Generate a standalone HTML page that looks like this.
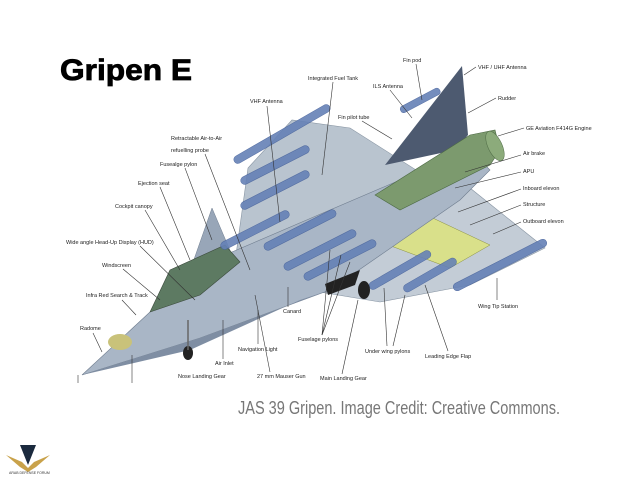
<!DOCTYPE html>
<html><head><meta charset="utf-8"><style>
html,body{margin:0;padding:0;background:#fff;}
svg{display:block;}
.l{font-family:"Liberation Sans",sans-serif;font-size:5.5px;fill:#222;}
.ln{stroke:#333;stroke-width:0.6;fill:none;}
.ms{fill:#6581b6;stroke:#46619a;stroke-width:0.5;opacity:0.9;}
</style></head><body>
<svg width="640" height="480" viewBox="0 0 640 480" xmlns="http://www.w3.org/2000/svg">
<rect width="640" height="480" fill="#fff"/>
<text x="60" y="80" font-family="Liberation Sans,sans-serif" font-weight="bold" font-size="30" fill="#000" textLength="132" lengthAdjust="spacingAndGlyphs" stroke="#000" stroke-width="0.8">Gripen E</text>

<polygon points="235,262 248,168 292,120 350,128 435,182 330,262" fill="#b9c4cf" stroke="#8895a3" stroke-width="0.6"/>
<polygon points="320,292 400,205 470,188 545,248 470,285 380,302" fill="#c3ccd6" stroke="#8895a3" stroke-width="0.6"/>
<polygon points="375,240 420,212 490,245 450,268" fill="#d9e08a" stroke="#8a9040" stroke-width="0.5"/>
<polygon points="385,165 462,66 468,135 455,150" fill="#4d5a70"/>
<polygon points="82,375 150,312 232,252 470,150 490,170 460,200 330,290 200,338" fill="#a9b6c6" stroke="#6f7d8f" stroke-width="0.6"/>
<polygon points="82,375 200,338 330,290 300,300 190,350" fill="#7f8ea3"/>
<polygon points="375,195 470,135 495,130 500,150 490,165 400,210" fill="#7c9a6e" stroke="#4d6a44" stroke-width="0.6"/>
<ellipse cx="495" cy="146" rx="7" ry="16" fill="#8cab7b" stroke="#4d6a44" stroke-width="0.5" transform="rotate(-25 495 146)"/>
<polygon points="185,285 212,208 232,255 215,270" fill="#98a6b8" stroke="#6f7d8f" stroke-width="0.5"/>
<polygon points="150,312 170,270 225,245 240,262 200,295" fill="#5d7a62" stroke="#3b4a3c" stroke-width="0.6"/>
<ellipse cx="120" cy="342" rx="12" ry="8" fill="#c9c27a"/>
<g class="ms">
<rect x="-55" y="-4" width="110" height="8" rx="4" transform="translate(282,134) rotate(-30)"/>
<rect x="-38" y="-4" width="76" height="8" rx="4" transform="translate(275,165) rotate(-27)"/>
<rect x="-38" y="-4" width="76" height="8" rx="4" transform="translate(275,190) rotate(-27)"/>
<rect x="-38" y="-4" width="76" height="8" rx="4" transform="translate(255,230) rotate(-27)"/>
<rect x="-40" y="-4" width="80" height="8" rx="4" transform="translate(300,230) rotate(-27)"/>
<rect x="-40" y="-4" width="80" height="8" rx="4" transform="translate(320,250) rotate(-27)"/>
<rect x="-40" y="-4" width="80" height="8" rx="4" transform="translate(340,260) rotate(-27)"/>
<rect x="-35" y="-4" width="70" height="8" rx="4" transform="translate(400,270) rotate(-30)"/>
<rect x="-30" y="-4" width="60" height="8" rx="4" transform="translate(430,275) rotate(-30)"/>
<rect x="-52" y="-4" width="104" height="8" rx="4" transform="translate(500,265) rotate(-27)"/>
<rect x="-22" y="-3" width="44" height="7" rx="3" transform="translate(420,100) rotate(-28)"/>
</g>
<ellipse cx="364" cy="290" rx="6" ry="9" fill="#222"/>
<ellipse cx="188" cy="353" rx="5" ry="7" fill="#222"/>
<line x1="188" y1="320" x2="188" y2="350" stroke="#666" stroke-width="1.5"/>
<polygon points="325,284 360,270 355,285 328,295" fill="#222"/>

<g class="l">
<text x="308" y="80">Integrated Fuel Tank</text>
<text x="250" y="103">VHF Antenna</text>
<text x="171" y="140">Retractable Air-to-Air</text>
<text x="171" y="152">refuelling probe</text>
<text x="160" y="166">Fusealge pylon</text>
<text x="138" y="185">Ejection seat</text>
<text x="115" y="208">Cockpit canopy</text>
<text x="66" y="244">Wide angle Head-Up Display (HUD)</text>
<text x="102" y="267">Windscreen</text>
<text x="86" y="297">Infra Red Search &amp; Track</text>
<text x="80" y="330">Radome</text>
<text x="178" y="378">Nose Landing Gear</text>
<text x="215" y="365">Air Inlet</text>
<text x="238" y="351">Navigation Light</text>
<text x="257" y="378">27 mm Mauser Gun</text>
<text x="283" y="313">Canard</text>
<text x="298" y="341">Fuselage pylons</text>
<text x="320" y="380">Main Landing Gear</text>
<text x="365" y="353">Under wing pylons</text>
<text x="425" y="358">Leading Edge Flap</text>
<text x="478" y="308">Wing Tip Station</text>
<text x="523" y="223">Outboard elevon</text>
<text x="523" y="206">Structure</text>
<text x="523" y="190">Inboard elevon</text>
<text x="523" y="173">APU</text>
<text x="523" y="155">Air brake</text>
<text x="526" y="130">GE Aviation F414G Engine</text>
<text x="498" y="100">Rudder</text>
<text x="478" y="69">VHF / UHF Antenna</text>
<text x="403" y="62">Fin pod</text>
<text x="373" y="88">ILS Antenna</text>
<text x="338" y="119">Fin pilot tube</text>
</g>
<g class="ln">
<line x1="333" y1="82" x2="322" y2="175"/>
<line x1="267" y1="106" x2="280" y2="222"/>
<line x1="205" y1="154" x2="250" y2="270"/>
<line x1="185" y1="168" x2="212" y2="240"/>
<line x1="160" y1="187" x2="190" y2="260"/>
<line x1="145" y1="210" x2="180" y2="270"/>
<line x1="140" y1="246" x2="195" y2="300"/>
<line x1="123" y1="269" x2="160" y2="300"/>
<line x1="122" y1="300" x2="136" y2="315"/>
<line x1="93" y1="333" x2="102" y2="352"/>
<line x1="132" y1="355" x2="132" y2="383"/>
<line x1="78" y1="375" x2="78" y2="383"/>
<line x1="223" y1="359" x2="223" y2="320"/>
<line x1="258" y1="344" x2="258" y2="310"/>
<line x1="270" y1="372" x2="255" y2="295"/>
<line x1="288" y1="307" x2="288" y2="287"/>
<line x1="322" y1="335" x2="330" y2="250"/>
<line x1="322" y1="335" x2="341" y2="255"/>
<line x1="322" y1="335" x2="350" y2="262"/>
<line x1="342" y1="374" x2="358" y2="300"/>
<line x1="387" y1="346" x2="384" y2="288"/>
<line x1="393" y1="346" x2="405" y2="295"/>
<line x1="448" y1="351" x2="425" y2="285"/>
<line x1="497" y1="300" x2="497" y2="278"/>
<line x1="521" y1="222" x2="493" y2="234"/>
<line x1="521" y1="205" x2="470" y2="225"/>
<line x1="521" y1="189" x2="458" y2="212"/>
<line x1="521" y1="172" x2="455" y2="188"/>
<line x1="521" y1="155" x2="465" y2="172"/>
<line x1="524" y1="128" x2="498" y2="136"/>
<line x1="496" y1="98" x2="468" y2="113"/>
<line x1="476" y1="67" x2="464" y2="75"/>
<line x1="416" y1="64" x2="422" y2="100"/>
<line x1="390" y1="90" x2="412" y2="118"/>
<line x1="362" y1="121" x2="392" y2="139"/>
</g>

<text x="238" y="414" font-family="Liberation Sans,sans-serif" font-size="18" fill="#777" textLength="322" lengthAdjust="spacingAndGlyphs">JAS 39 Gripen. Image Credit: Creative Commons.</text>

<polygon points="20,445 36,445 28,465" fill="#1b2a3e"/>
<path d="M6,455 L22,462 L28,468 L34,462 L50,455 L36,467 L28,472 L20,467Z" fill="#c9a24a"/>
<text x="9" y="474" font-family="Liberation Sans,sans-serif" font-size="3.5" fill="#333">ARAB DEFENSE FORUM</text>
</svg>
</body></html>
